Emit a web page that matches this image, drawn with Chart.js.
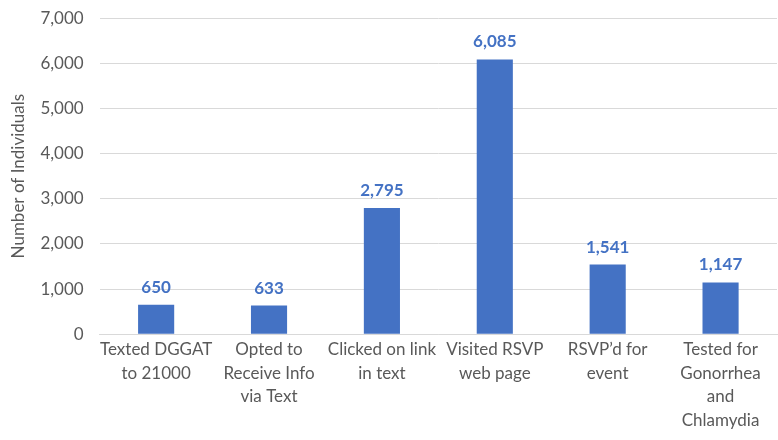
<!DOCTYPE html>
<html>
<head>
<meta charset="utf-8">
<script src="https://cdn.jsdelivr.net/npm/chart.js@4.4.0/dist/chart.umd.min.js"></script>
<style>
  html, body { margin: 0; padding: 0; background: #fff; overflow: hidden; }
  #wrap { width: 778px; height: 440px; overflow: hidden; }
  #funnelChart { display: block; margin-top: -8px; }
</style>
</head>
<body>
<div id="wrap"><canvas id="funnelChart" width="778" height="444"></canvas></div>
<script>
// categories (multi-line labels as they wrap in the original)
var categories = [
    ['Texted DGGAT', 'to 21000'],
    ['Opted to', 'Receive Info', 'via Text'],
    ['Clicked on link', 'in text'],
    ['Visited RSVP', 'web page'],
    ['RSVP\u2019d for', 'event'],
    ['Tested for', 'Gonorrhea', 'and', 'Chlamydia']
];
var individuals = [650, 633, 2795, 6085, 1541, 1147];
var yTicks = [0, 1000, 2000, 3000, 4000, 5000, 6000, 7000];

var FONT = "Lato, 'Open Sans', sans-serif";

// labels above each bar
var barValueLabels = {
    id: 'barValueLabels',
    afterDatasetsDraw: function(chart) {
        var ctx = chart.ctx;
        var meta = chart.getDatasetMeta(0);
        ctx.save();
        ctx.font = 'bold 17px ' + FONT;
        ctx.fillStyle = '#4472C4';
        ctx.textAlign = 'center';
        ctx.textBaseline = 'bottom';
        meta.data.forEach(function(bar, i) {
            ctx.fillText(individuals[i].toLocaleString('en-US'), bar.x, bar.y - 9);
        });
        ctx.restore();
    }
};

var ctx = document.getElementById('funnelChart').getContext('2d');
var chart = new Chart(ctx, {
    type: 'bar',
    data: {
        labels: categories,
        datasets: [{
            label: 'Number of Individuals',
            data: individuals,
            backgroundColor: '#4472C4',
            borderWidth: 0,
            categoryPercentage: 1.0,
            barPercentage: 0.32
        }]
    },
    options: {
        responsive: false,
        animation: false,
        layout: { padding: { left: 8, right: 1, top: 0, bottom: 0 } },
        plugins: {
            legend: { display: false },
            tooltip: { enabled: false }
        },
        scales: {
            x: {
                grid: { display: false, drawTicks: false },
                border: { display: true, color: '#d9d9d9', width: 1 },
                ticks: {
                    color: '#595959',
                    font: { family: FONT, size: 17, lineHeight: 1.38 },
                    padding: 4,
                    maxRotation: 0,
                    autoSkip: false
                }
            },
            y: {
                min: 0,
                max: 7000,
                afterBuildTicks: function(axis) {
                    axis.ticks = yTicks.map(function(v) { return { value: v }; });
                },
                grid: { color: '#d9d9d9', drawTicks: false },
                border: { display: false },
                ticks: {
                    color: '#595959',
                    font: { family: FONT, size: 17 },
                    padding: 16,
                    callback: function(v) { return v.toLocaleString('en-US'); }
                },
                title: {
                    display: true,
                    text: 'Number of Individuals',
                    color: '#595959',
                    font: { family: FONT, size: 17 },
                    padding: { top: 0, bottom: -4 }
                }
            }
        }
    },
    plugins: [barValueLabels]
});
</script>
</body>
</html>
